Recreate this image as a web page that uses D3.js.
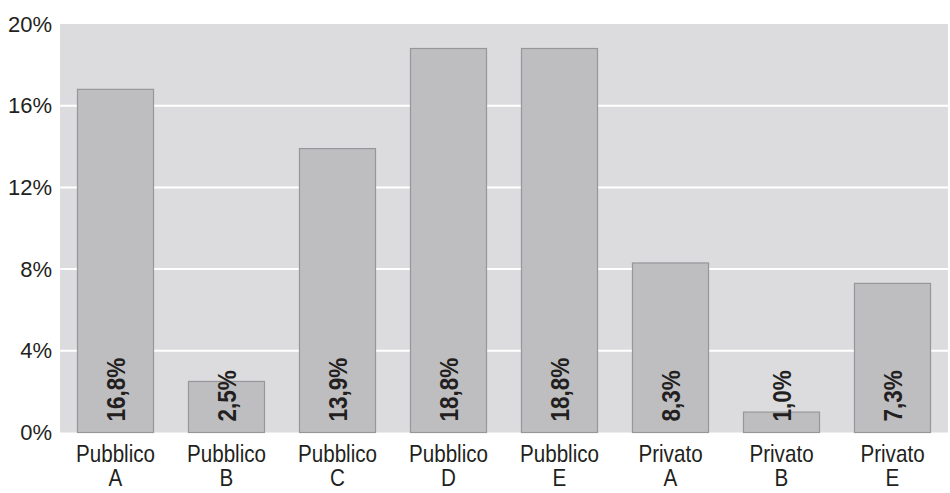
<!DOCTYPE html>
<html>
<head>
<meta charset="utf-8">
<script src="https://cdn.jsdelivr.net/npm/d3@7"></script>
<style>
  body { margin: 0; background: #fff; }
  svg text { font-family: "Liberation Sans", Arial, sans-serif; fill: #231f20; }
</style>
</head>
<body>
<div id="chart"></div>
<script>
// categories (two-line labels) and values in %
var categories = ['Pubblico A', 'Pubblico B', 'Pubblico C', 'Pubblico D', 'Pubblico E', 'Privato A', 'Privato B', 'Privato E'];
var labelLines = [['Pubblico', 'A'], ['Pubblico', 'B'], ['Pubblico', 'C'], ['Pubblico', 'D'], ['Pubblico', 'E'], ['Privato', 'A'], ['Privato', 'B'], ['Privato', 'E']];
var values = [16.8, 2.5, 13.9, 18.8, 18.8, 8.3, 1.0, 7.3];
var yTicks = [0, 4, 8, 12, 16, 20];

var width = 950, height = 493;
var margin = { top: 24, right: 2, bottom: 60, left: 60 };

var svg = d3.select('#chart').append('svg')
    .attr('width', width)
    .attr('height', height);

var x = d3.scaleBand()
    .domain(categories)
    .range([margin.left, width - margin.right])
    .paddingInner(0.315)
    .paddingOuter(0.1575);

var y = d3.scaleLinear()
    .domain([0, 20])
    .range([height - margin.bottom - 0.5, margin.top]);

// plot background
svg.append('rect')
    .attr('x', margin.left)
    .attr('y', margin.top)
    .attr('width', width - margin.right - margin.left)
    .attr('height', y(0) - margin.top)
    .attr('fill', '#dcdcde');

// gridlines
svg.selectAll('line.grid').data(yTicks.filter(function(d) { return d > 0 && d < 20; }))
  .enter().append('line')
    .attr('class', 'grid')
    .attr('x1', margin.left)
    .attr('x2', width - margin.right)
    .attr('y1', function(d) { return y(d); })
    .attr('y2', function(d) { return y(d); })
    .attr('stroke', '#fff')
    .attr('stroke-width', 2);

// y axis labels
var yAxis = d3.axisLeft(y)
    .tickValues(yTicks)
    .tickSize(0)
    .tickPadding(8)
    .tickFormat(function(d) { return d + '%'; });

svg.append('g')
    .attr('transform', 'translate(' + margin.left + ',0)')
    .call(yAxis)
    .call(function(g) { g.select('.domain').remove(); })
    .selectAll('text')
    .style('font-size', '22px')
    .style('font-family', '"Liberation Sans", Arial, sans-serif')
    .attr('fill', '#231f20');

// bars
svg.selectAll('rect.bar').data(values)
  .enter().append('rect')
    .attr('class', 'bar')
    .attr('x', function(d, i) { return x(categories[i]); })
    .attr('y', function(d) { return y(d); })
    .attr('width', x.bandwidth())
    .attr('height', function(d) { return y(0) - y(d); })
    .attr('fill', '#bebec1')
    .attr('stroke', '#97979a')
    .attr('stroke-width', 1.2);

// value labels, rotated and slightly condensed
svg.selectAll('text.val').data(values)
  .enter().append('text')
    .attr('class', 'val')
    .attr('transform', function(d, i) {
        return 'translate(' + (x(categories[i]) + x.bandwidth() / 2 + 9) + ',' + (y(0) - 11) + ') rotate(-90) scale(0.9,1)';
    })
    .style('font-size', '25px')
    .style('font-weight', 'bold')
    .text(function(d) { return d.toFixed(1).replace('.', ',') + '%'; });

// category labels, condensed
var cat = svg.selectAll('text.cat').data(labelLines)
  .enter().append('text')
    .attr('class', 'cat')
    .attr('text-anchor', 'middle')
    .style('font-size', '24px')
    .attr('transform', function(d, i) {
        return 'translate(' + (x(categories[i]) + x.bandwidth() / 2) + ',' + (y(0) + 29) + ') scale(0.86,1)';
    });
cat.selectAll('tspan').data(function(d) { return d; })
  .enter().append('tspan')
    .attr('x', 0)
    .attr('dy', function(d, j) { return j === 0 ? 0 : 25; })
    .text(function(d) { return d; });
</script>
</body>
</html>
